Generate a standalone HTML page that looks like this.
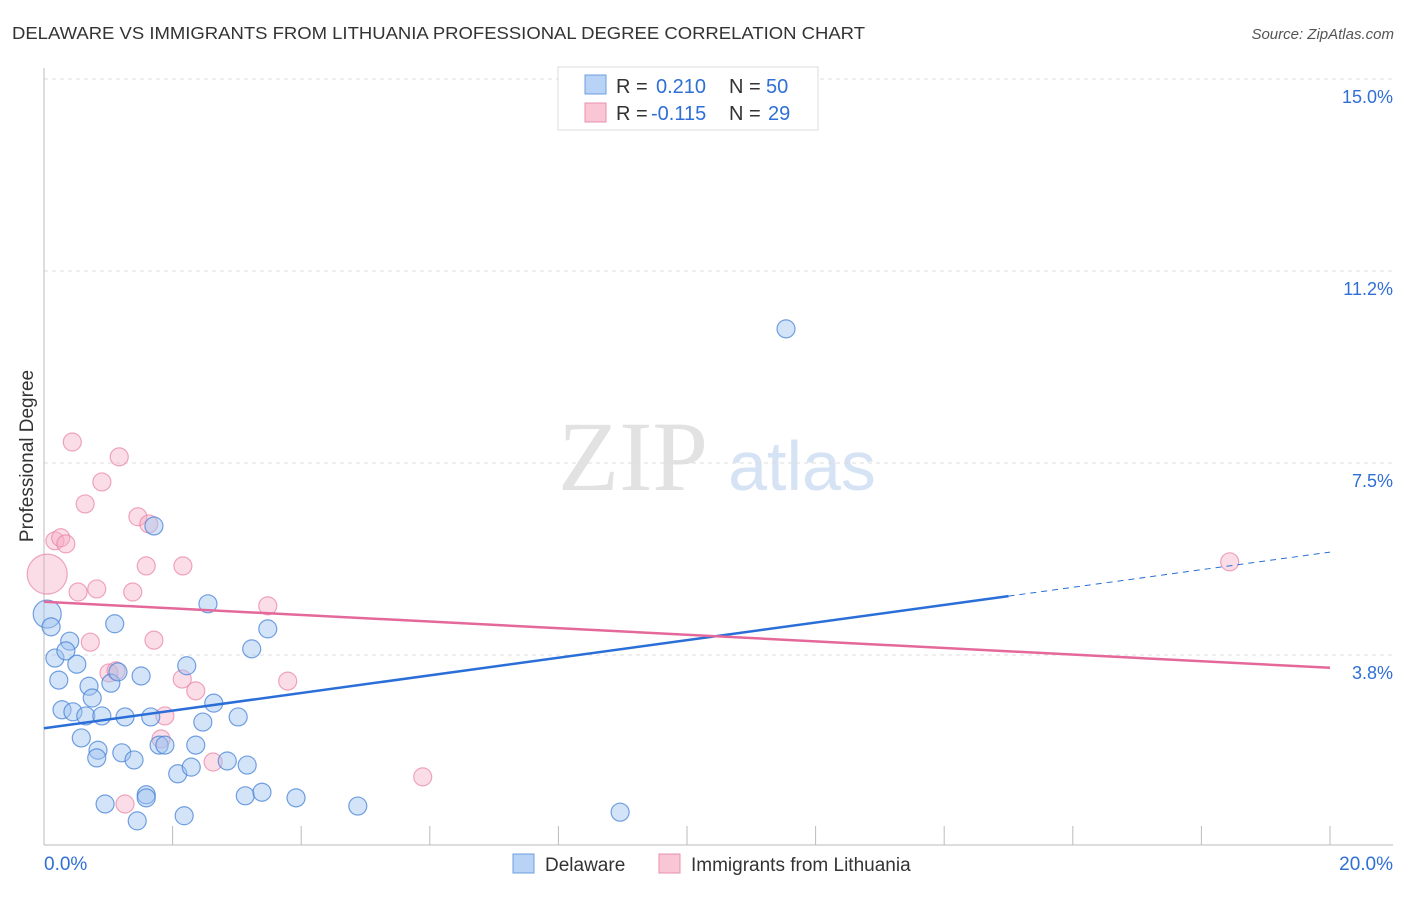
<!DOCTYPE html>
<html><head><meta charset="utf-8"><style>
body{margin:0;background:#fff;font-family:"Liberation Sans",sans-serif}
svg text{font-family:"Liberation Sans",sans-serif}
</style></head><body>
<svg id="c" width="1406" height="892">
<text x="12" y="39" font-size="17.5" fill="#333" textLength="853" lengthAdjust="spacingAndGlyphs">DELAWARE VS IMMIGRANTS FROM LITHUANIA PROFESSIONAL DEGREE CORRELATION CHART</text>
<text x="1394" y="39" font-size="15" fill="#555" text-anchor="end" font-style="italic">Source: ZipAtlas.com</text>
<g>
<text x="633" y="490" font-size="100" fill="#e2e2e2" text-anchor="middle" font-family="Liberation Serif" style="font-family:'Liberation Serif',serif">ZIP</text>
<text x="802" y="490" font-size="70" fill="#d6e3f5" text-anchor="middle">atlas</text>
</g>
<g id="grid"></g><g id="axes"></g><g id="marks"></g><g id="trends"></g>
<text transform="translate(33,456) rotate(-90)" font-size="19" fill="#333" text-anchor="middle">Professional Degree</text>
<g>
<rect x="558" y="67" width="260" height="63" fill="#fff" stroke="#ddd"/>
<rect x="585" y="75" width="21" height="19" fill="#b8d3f5" stroke="#6d9ee0"/>
<rect x="585" y="103" width="21" height="19" fill="#f9c6d5" stroke="#e890ab"/>
<text x="616" y="93" font-size="20" fill="#333">R =<tspan x="656" fill="#2f6fd6">0.210</tspan><tspan x="729" fill="#333">N =</tspan><tspan x="766" fill="#2f6fd6">50</tspan></text>
<text x="616" y="120" font-size="20" fill="#333">R =<tspan x="651" fill="#2f6fd6">-0.115</tspan><tspan x="729" fill="#333">N =</tspan><tspan x="768" fill="#2f6fd6">29</tspan></text>
</g>
<g>
<rect x="513" y="854" width="21" height="19" fill="#b8d3f5" stroke="#6d9ee0"/>
<text x="545" y="871" font-size="19" fill="#333">Delaware</text>
<rect x="659" y="854" width="21" height="19" fill="#f9c6d5" stroke="#e890ab"/>
<text x="691" y="871" font-size="19" fill="#333">Immigrants from Lithuania</text>
</g>
</svg>
<script>
const yTicks=[3.8,7.5,11.2,15.0];
const yTickVals=[3.75,7.5,11.25,15];
const xTickLabels=["0.0%","20.0%"];
const blueX=[0.05,0.11,0.17,0.23,0.28,0.40,0.34,0.51,0.45,0.58,0.65,0.70,0.75,0.84,0.82,0.90,0.95,1.04,1.10,1.15,1.21,1.26,1.40,1.45,1.51,1.59,1.59,1.66,1.71,1.79,1.88,2.08,2.18,2.22,2.29,2.36,2.47,2.55,2.64,2.85,3.02,3.13,3.16,3.23,3.39,3.48,3.92,4.88,8.96,11.54];
const blueY=[4.55,4.30,3.69,3.26,2.68,4.02,3.83,3.57,2.64,2.13,2.56,3.14,2.91,1.89,1.74,2.56,0.84,3.20,4.36,3.42,1.84,2.54,1.70,0.51,3.34,1.02,0.96,2.54,6.27,1.99,1.99,1.43,0.61,3.54,1.56,1.99,2.44,4.75,2.81,1.68,2.54,1.00,1.60,3.87,1.07,4.26,0.96,0.80,0.68,10.12];
const pinkX=[0.05,0.17,0.26,0.34,0.44,0.53,0.64,0.72,0.82,0.90,1.01,1.12,1.17,1.26,1.38,1.46,1.59,1.63,1.71,1.82,1.88,2.15,2.16,2.36,2.63,3.48,3.79,5.89,18.44];
const pinkY=[5.33,5.98,6.04,5.92,7.91,4.98,6.70,4.00,5.04,7.13,3.40,3.44,7.62,0.84,4.98,6.45,5.49,6.31,4.04,2.11,2.56,3.28,5.49,3.05,1.66,4.71,3.24,1.37,5.57];
const blueTrend=[2.32,5.76];
const pinkTrend=[4.79,3.50];
const NS="http://www.w3.org/2000/svg";
const X=v=>44+v/20*1286, Y=v=>847-v*51.2;
function mk(t,a,p){const e=document.createElementNS(NS,t);for(const k in a)e.setAttribute(k,a[k]);p.appendChild(e);return e;}
const grid=document.getElementById('grid'),axes=document.getElementById('axes'),marks=document.getElementById('marks'),trends=document.getElementById('trends');
yTickVals.forEach((v,i)=>{
 const l=mk('line',{x1:44,x2:1393,y1:Y(v),y2:Y(v),stroke:'#ddd','stroke-dasharray':'4,4'},grid);
 
 
 const t=mk('text',{x:1393,y:Y(v)+24,'font-size':18,fill:'#2f6fd6','text-anchor':'end'},grid);
 t.textContent=yTicks[i].toFixed(1)+'%';
 
 
});
let a=mk('line',{x1:44,x2:44,y1:68,y2:845,stroke:'#bbb'},axes);


a=mk('line',{x1:44,x2:1393,y1:845,y2:845,stroke:'#bbb'},axes);


for(let i=1;i<=10;i++){const t=mk('line',{x1:X(i*2),x2:X(i*2),y1:826,y2:845,stroke:'#bbb'},axes);
 
 }
[[0,'start',44],[20,'end',1393]].forEach((d,i)=>{const t=mk('text',{x:d[2],y:870,'font-size':19,fill:'#2f6fd6','text-anchor':d[1]},axes);t.textContent=xTickLabels[i];
 
 });
pinkX.forEach((x,i)=>{const c=mk('circle',{cx:X(x),cy:Y(pinkY[i]),r:i==0?20:9,fill:'rgba(246,170,195,0.4)',stroke:'rgba(232,130,165,0.7)','stroke-width':1.2},marks);
 
 });
blueX.forEach((x,i)=>{const c=mk('circle',{cx:X(x),cy:Y(blueY[i]),r:i==0?14:9,fill:'rgba(160,195,240,0.45)',stroke:'rgba(70,130,215,0.75)','stroke-width':1.2},marks);
 
 });
const bAt=v=>blueTrend[0]+(blueTrend[1]-blueTrend[0])*v/20;
let l=mk('line',{x1:X(0),y1:Y(bAt(0)),x2:X(15),y2:Y(bAt(15)),stroke:'#2a6ed8','stroke-width':2.5},trends);


l=mk('line',{x1:X(15),y1:Y(bAt(15)),x2:X(20),y2:Y(bAt(20)),stroke:'#2a6ed8','stroke-width':1,'stroke-dasharray':'6,5'},trends);


l=mk('line',{x1:X(0),y1:Y(pinkTrend[0]),x2:X(20),y2:Y(pinkTrend[1]),stroke:'#e5689a','stroke-width':2.5},trends);


</script>
</body></html>
